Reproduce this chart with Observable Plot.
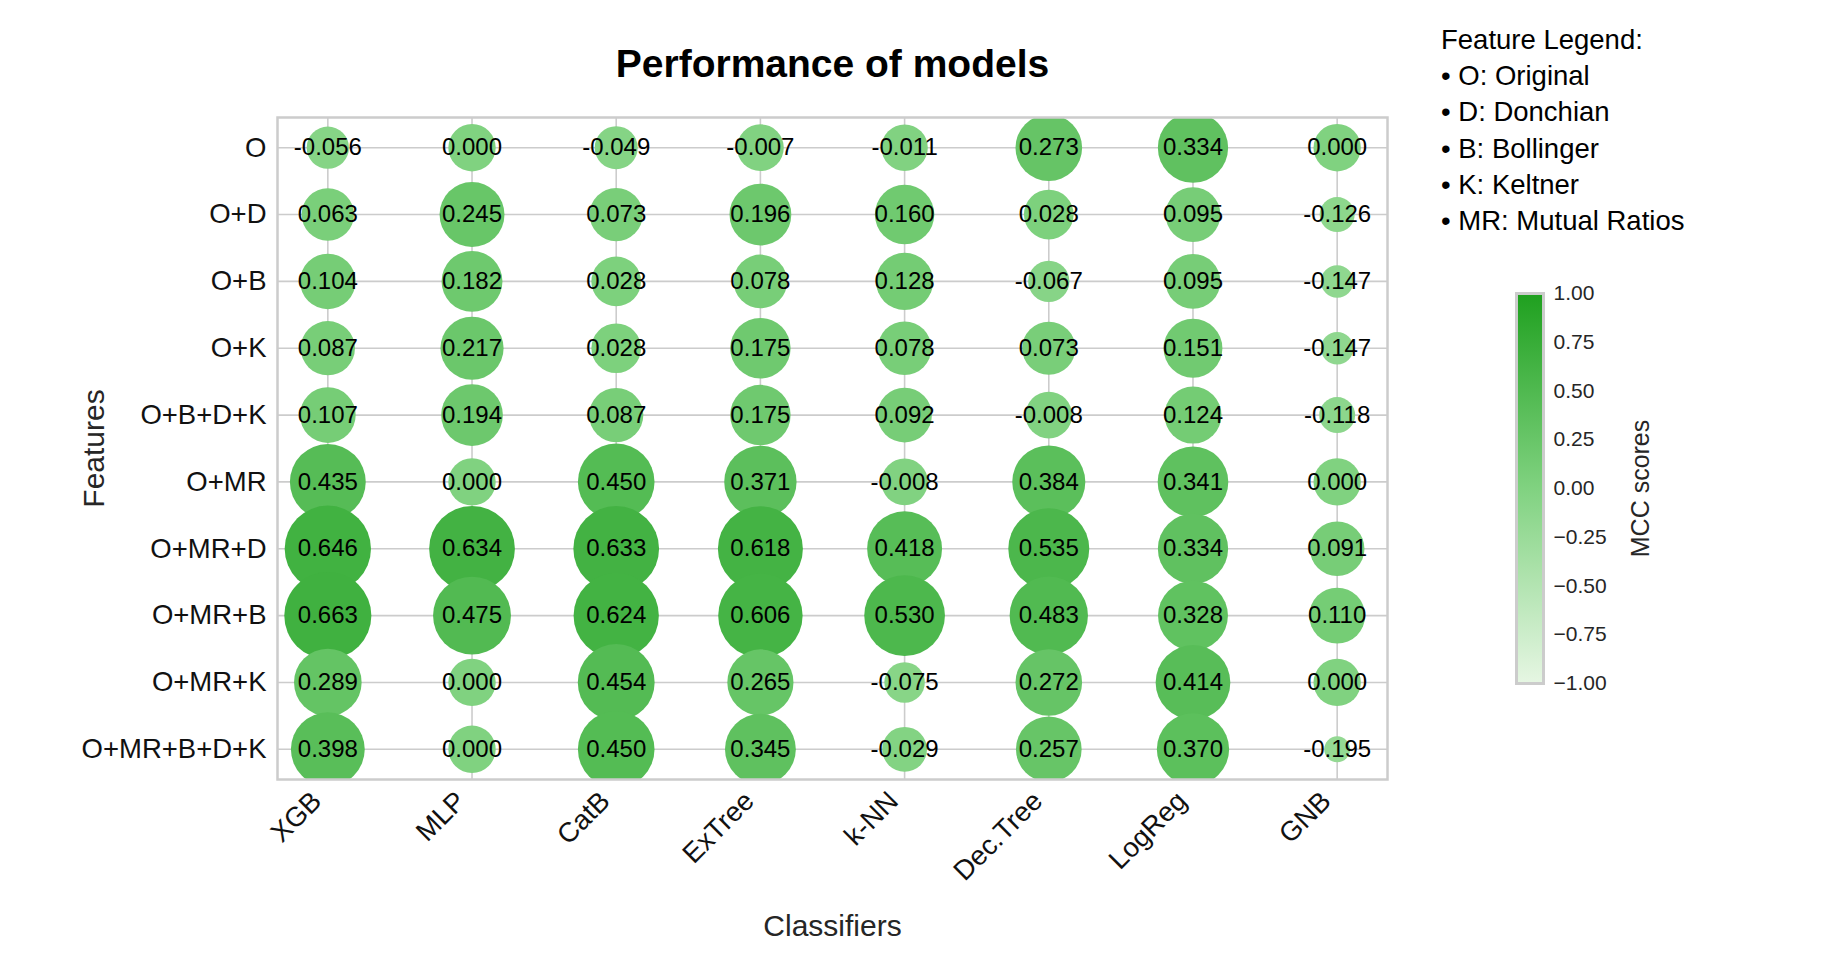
<!DOCTYPE html>
<html><head><meta charset="utf-8">
<script src="https://cdn.jsdelivr.net/npm/d3@7"></script>
<script src="https://cdn.jsdelivr.net/npm/@observablehq/plot@0.6"></script>
<style>
body{margin:0;background:#fff;font-family:"Liberation Sans",Arial,sans-serif;}
#wrap{position:relative;width:1848px;height:974px;overflow:hidden;background:#fff;}
#main{position:absolute;left:0;top:0;}
#cbar{position:absolute;left:1480px;top:270px;}
#legend{position:absolute;left:1441px;top:22px;font-size:27.5px;line-height:36.2px;color:#000;white-space:nowrap;}
</style></head><body>
<div id="wrap"><div id="main"></div><div id="cbar"></div><div id="legend"></div></div>
<script>
// ---- data ----
const classifiers = ["XGB", "MLP", "CatB", "ExTree", "k-NN", "Dec.Tree", "LogReg", "GNB"];
const features = ["O", "O+D", "O+B", "O+K", "O+B+D+K", "O+MR", "O+MR+D", "O+MR+B", "O+MR+K", "O+MR+B+D+K"];
const mcc_O          = [-0.056, 0.000, -0.049, -0.007, -0.011, 0.273, 0.334, 0.000];
const mcc_O_D        = [0.063, 0.245, 0.073, 0.196, 0.160, 0.028, 0.095, -0.126];
const mcc_O_B        = [0.104, 0.182, 0.028, 0.078, 0.128, -0.067, 0.095, -0.147];
const mcc_O_K        = [0.087, 0.217, 0.028, 0.175, 0.078, 0.073, 0.151, -0.147];
const mcc_O_B_D_K    = [0.107, 0.194, 0.087, 0.175, 0.092, -0.008, 0.124, -0.118];
const mcc_O_MR       = [0.435, 0.000, 0.450, 0.371, -0.008, 0.384, 0.341, 0.000];
const mcc_O_MR_D     = [0.646, 0.634, 0.633, 0.618, 0.418, 0.535, 0.334, 0.091];
const mcc_O_MR_B     = [0.663, 0.475, 0.624, 0.606, 0.530, 0.483, 0.328, 0.110];
const mcc_O_MR_K     = [0.289, 0.000, 0.454, 0.265, -0.075, 0.272, 0.414, 0.000];
const mcc_O_MR_B_D_K = [0.398, 0.000, 0.450, 0.345, -0.029, 0.257, 0.370, -0.195];
const colorbarTicks = [-1, -0.75, -0.5, -0.25, 0, 0.25, 0.5, 0.75, 1];
const legendTitle = "Feature Legend:";
const legendItems = ["O: Original", "D: Donchian", "B: Bollinger", "K: Keltner", "MR: Mutual Ratios"];

const rows = [mcc_O, mcc_O_D, mcc_O_B, mcc_O_K, mcc_O_B_D_K, mcc_O_MR, mcc_O_MR_D, mcc_O_MR_B, mcc_O_MR_K, mcc_O_MR_B_D_K];
const table = [];
features.forEach((f, i) => classifiers.forEach((c, j) => table.push({feat: f, clf: c, v: rows[i][j]})));

// ---- style config ----
const colorDomain = [-1, 0, 1];
const colorRange = ["#e6f6e3", "#80d280", "#1fa01f"];
const sizeBase = 0.278;
const font = '"Liberation Sans", Arial, sans-serif';

const main = Plot.plot({
  width: 1848, height: 974,
  marginLeft: 277, marginRight: 461, marginTop: 117, marginBottom: 195,
  style: {fontFamily: font, background: "white", overflow: "visible"},
  x: {type: "point", domain: classifiers, padding: 0.349, round: false},
  y: {type: "point", domain: features, padding: 0.452, round: false},
  r: {type: "sqrt", domain: [0, 1], range: [0, 44.9]},
  color: {type: "linear", domain: colorDomain, range: colorRange, interpolate: "rgb"},
  marks: [
    Plot.gridX({stroke: "#cccccc", strokeOpacity: 1, strokeWidth: 1.6}),
    Plot.gridY({stroke: "#cccccc", strokeOpacity: 1, strokeWidth: 1.6}),
    Plot.dot(table, {x: "clf", y: "feat", r: d => d.v + sizeBase, fill: "v", sort: null, clip: "frame"}),
    Plot.text(table, {x: "clf", y: "feat", text: d => d.v.toFixed(3), fontSize: 24, fill: "black"}),
    Plot.frame({stroke: "#cccccc", strokeWidth: 2.5}),
    Plot.axisX({tickRotate: -45, tickSize: 0, tickPadding: 17, dx: -11, fontSize: 27.5, label: null, fill: "#111"}),
    Plot.axisY({tickSize: 0, tickPadding: 11, fontSize: 27.5, label: null, fill: "#111"}),
    Plot.text(["Performance of models"], {frameAnchor: "top", textAnchor: "middle", lineAnchor: "bottom", dy: -40.7, fontSize: 39, fontWeight: "bold", fill: "black"}),
    Plot.text(["Classifiers"], {frameAnchor: "bottom", textAnchor: "middle", lineAnchor: "middle", dy: 147, fontSize: 30, fill: "#262626"}),
    Plot.text(["Features"], {frameAnchor: "left", textAnchor: "middle", lineAnchor: "middle", dx: -183, rotate: -90, fontSize: 30, fill: "#262626"})
  ]
});
document.getElementById("main").appendChild(main);

// ---- colorbar ----
function gradientBar(index, scales, values, dims) {
  const g = d3.create("svg:g");
  const lg = g.append("defs").append("linearGradient")
    .attr("id", "mccGrad").attr("x1", 0).attr("y1", 1).attr("x2", 0).attr("y2", 0);
  colorDomain.forEach((v, i) => lg.append("stop").attr("offset", (v - colorDomain[0]) / (colorDomain[2] - colorDomain[0])).attr("stop-color", colorRange[i]));
  const yTop = scales.y(colorDomain[2]), yBot = scales.y(colorDomain[0]);
  g.append("rect")
    .attr("x", dims.marginLeft).attr("y", yTop)
    .attr("width", dims.width - dims.marginLeft - dims.marginRight)
    .attr("height", yBot - yTop)
    .attr("fill", "url(#mccGrad)");
  return g.node();
}
const cbar = Plot.plot({
  width: 250, height: 440,
  marginLeft: 36, marginRight: 187, marginTop: 23, marginBottom: 27,
  style: {fontFamily: font, background: "transparent", overflow: "visible"},
  y: {domain: [colorDomain[0], colorDomain[2]]},
  marks: [
    gradientBar,
    Plot.frame({stroke: "#cccccc", strokeWidth: 3}),
    Plot.axisY({anchor: "right", ticks: colorbarTicks, tickFormat: d => d.toFixed(2).replace("-", "\u2212"), tickSize: 0, tickPadding: 10, fontSize: 21, label: null, fill: "#262626"}),
    Plot.text(["MCC scores"], {frameAnchor: "right", textAnchor: "middle", lineAnchor: "middle", dx: 97, rotate: -90, fontSize: 25, fill: "#262626"})
  ]
});
document.getElementById("cbar").appendChild(cbar);

// ---- feature legend ----
const leg = d3.select("#legend");
leg.append("div").text(legendTitle);
legendItems.forEach(t => leg.append("div").text("\u2022 " + t));
</script>
</body></html>
